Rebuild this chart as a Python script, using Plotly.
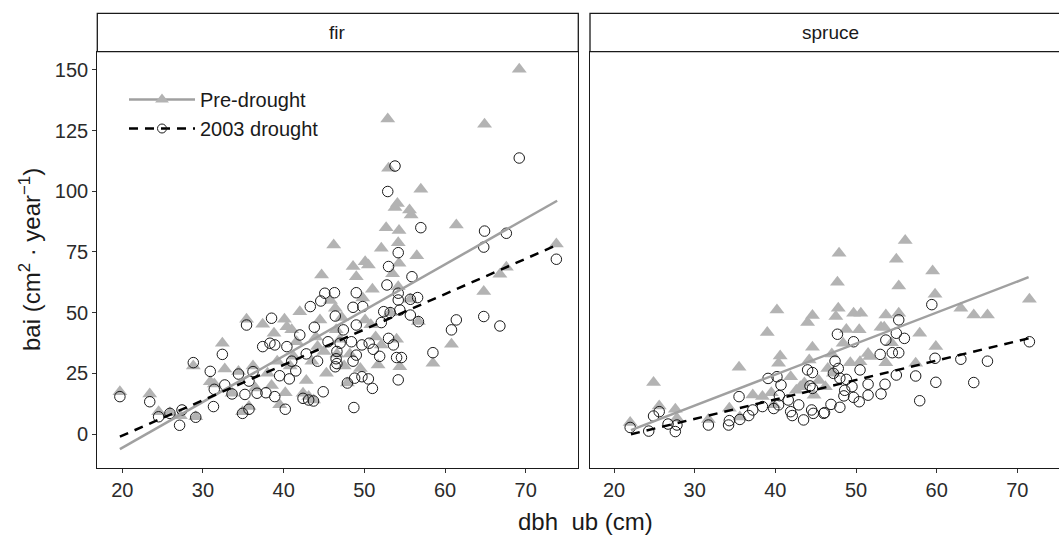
import plotly.graph_objects as go

# ---------------- data ----------------
fir_pre_dbh = [19.7, 23.4, 24.5, 25.9, 27.2, 28.8, 29.1, 30.9, 31.4, 32.4, 32.7, 33.6, 34.4, 34.9, 35.4, 35.7,
               36.2, 36.5, 37.4, 38.0, 38.5, 38.8, 39.2, 40.1, 40.4, 39.5, 40.2, 40.8, 41.2, 41.6, 42.0, 42.4,
               43.1, 43.7, 43.5, 44.0, 44.5, 44.7, 45.0, 45.3, 46.2, 46.4, 46.5, 46.6, 47.0, 47.5, 47.9, 48.6,
               49.0, 49.5, 50.1, 50.5, 50.1, 51.0, 51.7, 52.1, 52.1, 52.7, 52.9, 53.0, 53.2, 53.8, 54.0, 54.1,
               54.2, 54.2, 54.3, 54.3, 54.4, 55.6, 55.7, 55.8, 56.5, 56.7, 57.0, 58.5, 60.8, 61.4, 64.8, 64.9,
               66.8, 67.6, 69.2, 73.8, 41.0, 42.8, 45.8, 48.2, 50.8, 53.5, 44.2, 47.2, 49.8, 51.4]
fir_pre_bai = [17.4, 16.5, 9.2, 8.8, 7.5, 28.0, 7.1, 21.5, 20.6, 37.4, 26.8, 16.8, 25.7, 9.2, 47.3, 11.3,
               28.0, 19.0, 45.2, 25.0, 20.0, 41.5, 30.0, 47.3, 44.2, 12.0, 17.0, 28.0, 32.0, 38.0, 50.4, 16.8,
               15.4, 14.0, 30.0, 40.0, 47.0, 65.5, 34.0, 25.0, 77.9, 51.8, 43.0, 33.0, 39.0, 28.0, 21.0, 69.0,
               64.8, 27.0, 71.0, 69.6, 47.0, 59.6, 28.4, 76.5, 36.7, 85.0, 129.8, 109.5, 50.0, 93.3, 39.0, 95.0,
               60.7, 78.8, 70.3, 83.8, 27.7, 92.3, 55.5, 90.2, 73.4, 46.3, 100.8, 29.1, 37.0, 86.1, 58.7, 127.6,
               65.8, 68.7, 150.3, 78.3, 43.0, 22.0, 55.0, 33.0, 45.0, 66.0, 36.0, 48.0, 56.0, 40.0]

fir_dro_dbh = [19.7, 23.4, 24.5, 25.9, 27.1, 27.4, 28.8, 29.1, 30.9, 31.3, 31.4, 32.4, 32.7, 33.6, 34.4, 34.9,
               35.2, 35.4, 35.7, 35.7, 36.2, 36.7, 37.4, 37.8, 38.3, 38.5, 38.9, 38.9, 39.5, 40.2, 40.4, 40.7,
               41.0, 41.5, 42.0, 42.4, 42.8, 43.1, 43.3, 43.7, 43.8, 44.2, 44.6, 44.9, 45.1, 45.5, 46.3, 46.4,
               46.6, 46.5, 46.6, 46.4, 47.0, 47.4, 47.9, 48.4, 48.6, 48.6, 48.7, 48.8, 49.0, 49.0, 49.0, 49.7,
               49.7, 49.8, 50.5, 50.6, 51.0, 51.1, 51.9, 52.1, 52.4, 52.8, 52.9, 53.0, 53.0, 53.2, 53.6, 53.8,
               54.0, 54.2, 54.2, 54.2, 54.2, 54.4, 54.6, 55.7, 55.7, 55.9, 56.6, 56.7, 57.0, 58.5, 60.8, 61.4,
               64.8, 64.8, 64.9, 66.8, 67.6, 69.2, 73.8]
fir_dro_bai = [15.4, 13.3, 7.1, 8.5, 3.6, 9.9, 29.4, 6.9, 25.8, 11.3, 18.4, 32.8, 20.2, 16.5, 24.7, 8.5,
               16.3, 44.9, 10.2, 21.8, 25.7, 16.8, 36.0, 17.0, 37.4, 47.7, 36.7, 15.4, 24.0, 10.2, 36.0, 22.7,
               30.0, 26.0, 40.8, 14.7, 33.0, 14.0, 52.5, 13.6, 44.0, 30.0, 54.8, 17.4, 58.0, 38.0, 58.2, 48.6,
               34.0, 31.0, 29.0, 27.7, 37.4, 42.9, 21.0, 38.0, 52.2, 30.0, 10.9, 23.0, 58.2, 44.9, 32.5, 36.7,
               23.6, 52.5, 22.7, 37.4, 18.8, 34.9, 32.0, 45.9, 50.4, 61.4, 99.9, 69.0, 39.4, 50.0, 36.7, 110.4,
               31.5, 74.7, 58.0, 55.2, 22.3, 51.1, 31.5, 49.0, 55.5, 64.8, 56.2, 46.3, 85.0, 33.5, 42.9, 47.0,
               48.4, 77.0, 83.6, 44.5, 82.7, 113.7, 72.0]

spr_pre_dbh = [22.0, 24.9, 25.6, 27.6, 27.8, 31.7, 34.3, 35.5, 35.6, 37.2, 38.4, 39.0, 39.5, 39.8, 40.2, 40.6,
               40.4, 41.9, 42.6, 43.1, 44.0, 44.6, 44.6, 44.2, 43.6, 44.8, 45.4, 46.2, 46.5, 47.0, 47.2, 47.9,
               47.7, 47.8, 47.5, 48.4, 48.8, 49.3, 49.7, 50.4, 50.5, 50.6, 51.5, 51.7, 53.1, 53.5, 53.7, 53.7,
               54.4, 55.0, 55.3, 55.3, 56.1, 57.4, 57.9, 59.5, 59.8, 59.9, 63.0, 64.6, 66.3, 71.5]
spr_pre_bai = [4.7, 21.2, 11.5, 10.2, 6.5, 6.0, 10.6, 27.5, 7.0, 16.1, 15.4, 41.8, 17.0, 12.0, 51.1, 32.1,
               29.1, 23.6, 18.0, 19.5, 45.9, 48.8, 35.7, 30.5, 21.0, 16.0, 22.0, 19.5, 27.0, 33.0, 25.0, 74.5,
               62.5, 51.8, 48.4, 37.4, 43.1, 29.4, 49.7, 42.9, 29.8, 49.7, 33.2, 31.9, 44.0, 44.0, 49.0, 29.4,
               37.6, 72.0, 61.0, 49.7, 79.7, 29.1, 41.5, 67.2, 57.6, 36.0, 51.8, 49.0, 49.0, 55.5]

spr_dro_dbh = [22.0, 24.3, 24.9, 25.6, 26.7, 27.8, 27.6, 31.7, 34.2, 34.3, 35.5, 35.6, 36.7, 37.2, 38.4, 39.1,
               39.8, 40.2, 40.7, 40.5, 40.4, 41.6, 41.9, 42.1, 42.9, 43.5, 44.0, 44.6, 44.3, 44.6, 44.5, 44.7,
               46.0, 46.1, 46.9, 47.4, 47.7, 47.8, 47.2, 48.0, 48.0, 48.5, 48.8, 49.5, 48.6, 49.7, 49.7, 50.4,
               50.5, 51.5, 51.5, 53.0, 53.1, 53.6, 53.7, 54.5, 55.0, 55.0, 55.3, 55.3, 56.0, 57.4, 57.9, 59.4,
               59.8, 59.9, 63.0, 64.6, 66.3, 71.5]
spr_dro_bai = [2.7, 1.2, 7.4, 9.2, 4.1, 3.7, 1.0, 3.7, 3.7, 5.5, 15.4, 6.0, 7.6, 9.9, 11.3, 22.9,
               10.5, 23.6, 20.2, 15.8, 12.0, 14.0, 9.2, 7.6, 12.0, 5.8, 26.4, 25.3, 19.8, 18.8, 9.9, 8.5,
               8.5, 8.8, 12.2, 30.0, 41.1, 27.0, 25.0, 11.0, 23.0, 15.7, 22.5, 19.5, 18.0, 38.0, 15.1, 13.3,
               26.4, 20.5, 16.0, 32.8, 16.5, 20.5, 38.7, 33.5, 24.3, 41.5, 33.5, 47.0, 39.4, 23.9, 13.7, 53.3,
               31.2, 21.3, 30.8, 21.2, 30.0, 38.0]

# fitted lines (end points)
fir_fit_dbh = [19.7, 73.9]
fir_fit_pre = [-6.2, 96.1]
fir_fit_dro = [-1.1, 77.9]
spr_fit_dbh = [22.1, 71.4]
spr_fit_pre = [1.6, 64.6]
spr_fit_dro = [-0.1, 39.4]

x_ticks = [20, 30, 40, 50, 60, 70]
y_ticks = [0, 25, 50, 75, 100, 125, 150]
panels = ["fir", "spruce"]

# ---------------- styles ----------------
FONT = "Liberation Sans, Arial, sans-serif"
TRI = dict(symbol="triangle-up", size=13, color="#b3b3b3", line=dict(width=0))
CIR = dict(symbol="circle-open", size=10.5, color="#1a1a1a", line=dict(width=1, color="#1a1a1a"))
PRE_LINE = dict(color="#a0a0a0", width=2.5)
DRO_LINE = dict(color="#000000", width=2.5, dash="9px,7px")

fig = go.Figure()

for xa, ya, pdbh, pbai, ddbh, dbai, fdbh, fpre, fdro in [
    ("x", "y", fir_pre_dbh, fir_pre_bai, fir_dro_dbh, fir_dro_bai, fir_fit_dbh, fir_fit_pre, fir_fit_dro),
    ("x2", "y2", spr_pre_dbh, spr_pre_bai, spr_dro_dbh, spr_dro_bai, spr_fit_dbh, spr_fit_pre, spr_fit_dro),
]:
    fig.add_trace(go.Scatter(x=pdbh, y=pbai, mode="markers", marker=TRI, xaxis=xa, yaxis=ya,
                             showlegend=False))
    fig.add_trace(go.Scatter(x=ddbh, y=dbai, mode="markers", marker=CIR, xaxis=xa, yaxis=ya,
                             showlegend=False))
    fig.add_trace(go.Scatter(x=fdbh, y=fpre, mode="lines", line=PRE_LINE, xaxis=xa, yaxis=ya,
                             showlegend=False))
    fig.add_trace(go.Scatter(x=fdbh, y=fdro, mode="lines", line=DRO_LINE, xaxis=xa, yaxis=ya,
                             showlegend=False))

# legend-only entries
fig.add_trace(go.Scatter(x=[None], y=[None], mode="lines+markers", name="Pre-drought",
                         line=PRE_LINE, marker=dict(symbol="triangle-up", size=12, color="#b3b3b3")))
fig.add_trace(go.Scatter(x=[None], y=[None], mode="lines+markers", name="2003 drought",
                         line=DRO_LINE, marker=dict(symbol="circle-open", size=9, color="#1a1a1a",
                                                    line=dict(width=1))))

W, H = 1059, 539
fir_l, fir_r = 97.3, 578.3
spr_l, spr_r = 590.0, 1071.0
top, bot, strip_top = 51.7, 468.3, 13.3

axis_common = dict(showgrid=False, zeroline=False, showline=True, linecolor="#1a1a1a", linewidth=1.3,
                   ticks="outside", ticklen=4, tickcolor="#333333", tickwidth=1,
                   tickfont=dict(family=FONT, size=20, color="#2b2b2b"))

fig.update_layout(
    width=W, height=H,
    margin=dict(l=0, r=0, t=0, b=0),
    paper_bgcolor="white", plot_bgcolor="white",
    font=dict(family=FONT, color="#1a1a1a"),
    xaxis=dict(domain=[fir_l / W, fir_r / W], range=[16.9, 76.52], tickvals=x_ticks, mirror=True,
               **axis_common),
    xaxis2=dict(domain=[spr_l / W, 1.0], range=[17.02, 75.17], tickvals=x_ticks, mirror=True,
                anchor="y2", **axis_common),
    yaxis=dict(domain=[1 - bot / H, 1 - top / H], range=[-14.13, 157.5], tickvals=y_ticks, mirror=True,
               **axis_common),
    yaxis2=dict(domain=[1 - bot / H, 1 - top / H], range=[-14.13, 157.5], matches="y", anchor="x2",
                showgrid=False, zeroline=False, showline=True, linecolor="#1a1a1a", linewidth=1.3,
                ticks="", showticklabels=False),
    legend=dict(x=124 / W, y=1 - 80 / H, xanchor="left", yanchor="top", bgcolor="rgba(0,0,0,0)",
                font=dict(family=FONT, size=20, color="#1a1a1a"), itemwidth=66, tracegroupgap=0),
    showlegend=True,
)

# strips
for name, l, r in [(panels[0], fir_l, fir_r), (panels[1], spr_l, spr_r)]:
    fig.add_shape(type="rect", xref="paper", yref="paper", x0=l / W, x1=r / W,
                  y0=1 - top / H, y1=1 - strip_top / H, fillcolor="white",
                  line=dict(color="#1a1a1a", width=1.3), layer="below")
    fig.add_annotation(text=name, xref="paper", yref="paper", x=(l + r) / 2 / W, y=1 - 32.5 / H,
                       xanchor="center", yanchor="middle", showarrow=False,
                       font=dict(family=FONT, size=19, color="#1a1a1a"))

# axis titles
fig.add_annotation(text="dbh  ub (cm)", xref="paper", yref="paper", x=585 / W, y=1 - 521 / H,
                   xanchor="center", yanchor="middle", showarrow=False,
                   font=dict(family=FONT, size=24, color="#1a1a1a"))
fig.add_annotation(text="bai (cm<sup>2</sup> · year<sup>−1</sup>)", xref="paper", yref="paper",
                   x=30 / W, y=1 - 260 / H, textangle=-90, xanchor="center", yanchor="middle",
                   showarrow=False, font=dict(family=FONT, size=24, color="#1a1a1a"))

fig.write_html("out.html", config={"displayModeBar": False},
               post_script="document.body.style.margin='0px';")
